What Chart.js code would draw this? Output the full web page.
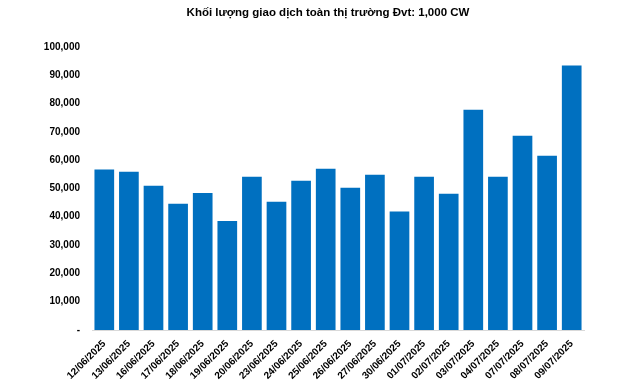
<!DOCTYPE html>
<html><head><meta charset="utf-8">
<script src="https://cdn.jsdelivr.net/npm/chart.js@4"></script>
<style>html,body{margin:0;padding:0;background:#fff}#wrap{width:640px;height:383px}</style>
</head><body><div id="wrap"><canvas id="c"></canvas></div>
<script>
const categories = ["12/06/2025","13/06/2025","16/06/2025","17/06/2025","18/06/2025","19/06/2025","20/06/2025","23/06/2025","24/06/2025","25/06/2025","26/06/2025","27/06/2025","30/06/2025","01/07/2025","02/07/2025","03/07/2025","04/07/2025","07/07/2025","08/07/2025","09/07/2025"];
const volumes = [56700,55900,50900,44600,48400,38500,54100,45300,52700,56900,50200,54800,41800,54100,48100,77800,54100,68600,61500,93400];
const yTicks = [0,10000,20000,30000,40000,50000,60000,70000,80000,90000,100000];
const titleText = "Khối lượng giao dịch toàn thị trường Đvt: 1,000 CW";

Chart.defaults.font.family = "'Liberation Sans', Arial, sans-serif";
Chart.defaults.color = "#000";
new Chart(document.getElementById('c'), {
  type: 'bar',
  data: { labels: categories, datasets: [{ data: volumes, backgroundColor: '#0070C0', barPercentage: 0.8, categoryPercentage: 1.0, yAxisID: 'y' }] },
  options: {
    responsive: true, maintainAspectRatio: false, animation: false,
    layout: { padding: { left: 16, right: 0, top: 0, bottom: 0 } },
    plugins: {
      legend: { display: false }, tooltip: { enabled: false },
      title: { display: true, text: titleText, font: { size: 11.5, weight: 'bold' }, padding: { top: 6, bottom: 27 }, color: '#000' }
    },
    scales: {
      x: {
        afterFit: (s) => { s.height = 53; },
        grid: { display: false, drawTicks: false },
        border: { display: true, color: '#d9d9d9', width: 1 },
        ticks: { maxRotation: 45, minRotation: 45, autoSkip: false, font: { size: 10, weight: 'bold' }, padding: 8 }
      },
      y: {
        position: 'left',
        min: 0, max: 100000,
        afterFit: (s) => { s.width = 76; },
        afterBuildTicks: (s) => { s.ticks = yTicks.map(v => ({ value: v })); },
        grid: { display: false, drawTicks: false },
        border: { display: false },
        ticks: { font: { size: 10, weight: 'bold' }, padding: 12,
          callback: (v) => v === 0 ? '-' : v.toLocaleString('en-US') }
      },
      y2: {
        position: 'right',
        min: 0, max: 100000,
        afterFit: (s) => { s.width = 56; },
        grid: { display: false, drawTicks: false },
        border: { display: false },
        ticks: { display: false }
      }
    }
  }
});
</script></body></html>
